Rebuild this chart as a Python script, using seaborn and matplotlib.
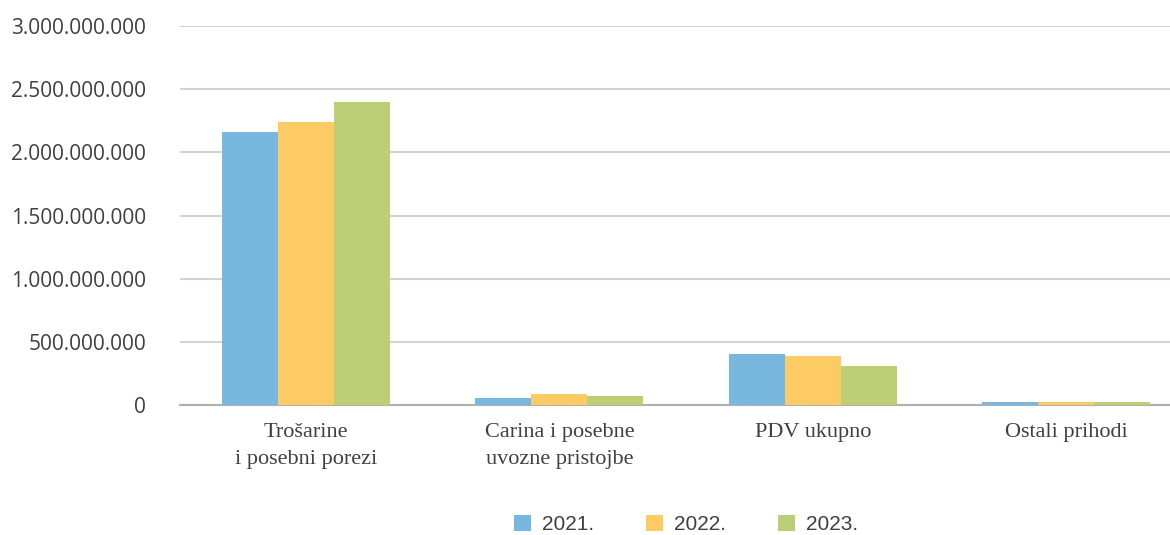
import pandas as pd
import matplotlib.pyplot as plt
import seaborn as sns
from matplotlib.ticker import FuncFormatter

# Data (EUR)
categories = ['Trošarine\ni posebni porezi', 'Carina i posebne\nuvozne pristojbe', 'PDV ukupno', 'Ostali prihodi']
years = ['2021.', '2022.', '2023.']
values_2021 = [2162000000, 52000000, 400000000, 21000000]
values_2022 = [2241000000, 84000000, 387000000, 21000000]
values_2023 = [2400000000, 68000000, 305000000, 21000000]
colors = ['#79B8DE', '#FDCB63', '#BDCF76']

df = pd.DataFrame({
    'category': categories * 3,
    'year': [years[0]] * 4 + [years[1]] * 4 + [years[2]] * 4,
    'value': values_2021 + values_2022 + values_2023,
})

sns.set_style('white')
plt.rcParams['font.family'] = ['Open Sans', 'DejaVu Sans']

fig = plt.figure(figsize=(11.7, 5.35), dpi=100)
ax = fig.add_axes([0.154, 0.243, 0.846, 0.708])

sns.barplot(data=df, x='category', y='value', hue='year', palette=colors,
            width=0.663, saturation=1, linewidth=0, ax=ax, zorder=3)

# the last category is partly cut at the right edge in the original
ax.set_xlim(-0.497, 3.41)
ax.set_ylim(0, 3000000000)
ax.set_yticks(range(0, 3000000001, 500000000))
ax.yaxis.set_major_formatter(FuncFormatter(lambda v, p: f'{int(v):,}'.replace(',', '.')))
ax.grid(axis='y', color='#D3D3D3', linewidth=1.5, zorder=0)
ax.set_axisbelow(True)
for s in ['top', 'right', 'left']:
    ax.spines[s].set_visible(False)
ax.spines['bottom'].set_color('#B0B0B0')
ax.spines['bottom'].set_linewidth(1.5)
ax.tick_params(axis='y', length=0, pad=24.5, labelsize=15, labelcolor='#404040')
ax.tick_params(axis='x', length=0, pad=13)
for lbl in ax.get_xticklabels():
    lbl.set_family('Liberation Serif')
    lbl.set_fontsize(16)
    lbl.set_color('#404040')
    lbl.set_linespacing(1.55)
ax.set_xlabel('')
ax.set_ylabel('')

ax.legend(loc='center', bbox_to_anchor=(0.511, -0.315), ncol=3, frameon=False,
          handlelength=0.82, handleheight=0.82, handletextpad=0.53, columnspacing=2.5,
          prop={'family': 'Liberation Sans', 'size': 15}, labelcolor='#404040')

plt.savefig('out.png', dpi=100)
plt.close()
